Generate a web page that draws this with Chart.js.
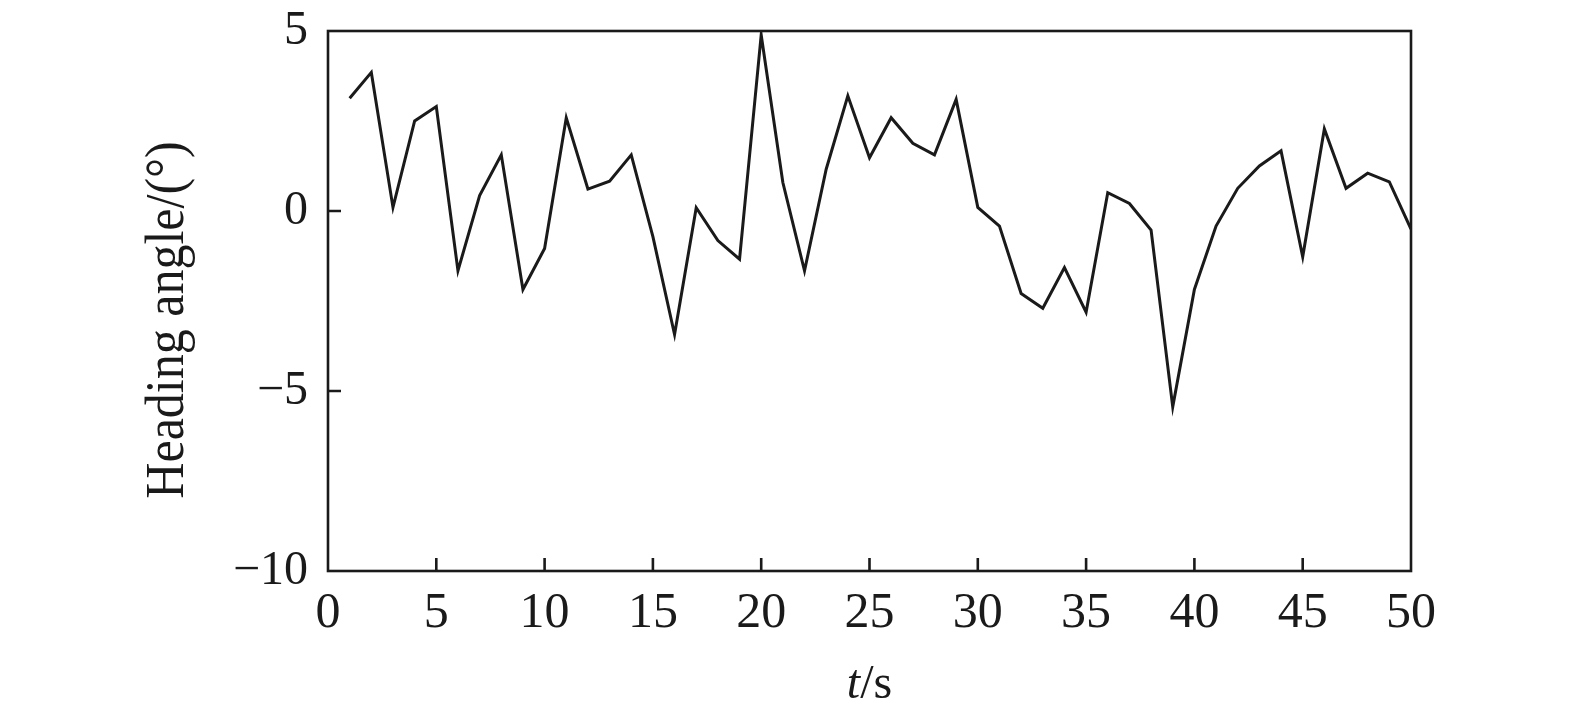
<!DOCTYPE html>
<html>
<head>
<meta charset="utf-8">
<script src="https://cdn.jsdelivr.net/npm/chart.js@4"></script>
<style>
  html, body { margin: 0; padding: 0; background: #fff; }
  #wrap { width: 1575px; height: 718px; }
</style>
</head>
<body>
<div id="wrap"><canvas id="myChart" width="1575" height="718"></canvas></div>
<script>
// time in seconds
const times = [1, 2, 3, 4, 5, 6, 7, 8, 9, 10,
  11, 12, 13, 14, 15, 16, 17, 18, 19, 20,
  21, 22, 23, 24, 25, 26, 27, 28, 29, 30,
  31, 32, 33, 34, 35, 36, 37, 38, 39, 40,
  41, 42, 43, 44, 45, 46, 47, 48, 49, 50];
// heading angle in degrees
const heading = [3.13, 3.85, 0.10, 2.50, 2.90, -1.66, 0.43, 1.56, -2.18, -1.04,
  2.59, 0.61, 0.83, 1.56, -0.71, -3.43, 0.09, -0.82, -1.34, 4.89,
  0.79, -1.66, 1.16, 3.20, 1.48, 2.59, 1.88, 1.56, 3.10, 0.10,
  -0.42, -2.29, -2.70, -1.57, -2.81, 0.51, 0.21, -0.53, -5.44, -2.18,
  -0.42, 0.63, 1.25, 1.67, -1.27, 2.28, 0.63, 1.05, 0.81, -0.50];
const xTicks = [0, 5, 10, 15, 20, 25, 30, 35, 40, 45, 50];
const yTicks = [-10, -5, 0, 5];
const yTitle = 'Heading angle/(\u00b0)';

const ink = '#1a1a1a';
const serif = '"Liberation Serif", "Times New Roman", serif';

// box around the plot, inward tick marks, and both axis titles
const frame = {
  id: 'frame',
  afterDraw(chart) {
    const { ctx, chartArea: a, scales } = chart;
    ctx.save();
    ctx.strokeStyle = ink;
    ctx.lineWidth = 2.6;
    ctx.strokeRect(a.left, a.top, a.right - a.left, a.bottom - a.top);
    ctx.beginPath();
    xTicks.slice(1, -1).forEach(v => {
      const px = scales.x.getPixelForValue(v);
      ctx.moveTo(px, a.bottom);
      ctx.lineTo(px, a.bottom - 13);
    });
    yTicks.slice(1, -1).forEach(v => {
      const py = scales.y.getPixelForValue(v);
      ctx.moveTo(a.left, py);
      ctx.lineTo(a.left + 13, py);
    });
    ctx.stroke();

    ctx.fillStyle = ink;
    ctx.textBaseline = 'alphabetic';

    // "t/s" with italic t
    const italic = 'italic 48px ' + serif;
    const upright = '48px ' + serif;
    ctx.font = italic;
    const w1 = ctx.measureText('t').width;
    ctx.font = upright;
    const w2 = ctx.measureText('/s').width;
    const cx = (a.left + a.right) / 2;
    const x0 = cx - (w1 + w2) / 2;
    ctx.font = italic;
    ctx.fillText('t', x0, 698);
    ctx.font = upright;
    ctx.fillText('/s', x0 + w1, 698);

    // rotated y title
    ctx.save();
    ctx.translate(183, 320);
    ctx.rotate(-Math.PI / 2);
    ctx.scale(1, 1.1);
    ctx.font = '50px ' + serif;
    ctx.textAlign = 'center';
    ctx.fillText(yTitle, 0, 0);
    ctx.restore();
    ctx.restore();
  }
};

const ctx = document.getElementById('myChart');
new Chart(ctx, {
  type: 'line',
  data: {
    datasets: [{
      label: yTitle,
      data: times.map((t, i) => ({ x: t, y: heading[i] })),
      borderColor: ink,
      borderWidth: 3,
      pointRadius: 0,
      tension: 0,
      fill: false
    }]
  },
  options: {
    responsive: false,
    animation: false,
    layout: { padding: { left: 0, top: 31, right: 164, bottom: 0 } },
    plugins: { legend: { display: false }, tooltip: { enabled: false } },
    scales: {
      x: {
        type: 'linear',
        min: 0,
        max: 50,
        afterFit(scale) {
          scale.height = 147;
          scale.paddingLeft = 0;
          scale.paddingRight = 0;
        },
        afterBuildTicks(scale) { scale.ticks = xTicks.map(v => ({ value: v })); },
        border: { display: false },
        grid: { display: false, drawTicks: false },
        ticks: {
          color: ink,
          padding: 13,
          maxRotation: 0,
          autoSkip: false,
          font: { family: serif, size: 50 }
        }
      },
      y: {
        min: -10,
        max: 5,
        afterFit(scale) {
          scale.width = 328;
          scale.paddingTop = 0;
          scale.paddingBottom = 0;
        },
        afterBuildTicks(scale) { scale.ticks = yTicks.map(v => ({ value: v })); },
        border: { display: false },
        grid: { display: false, drawTicks: false },
        ticks: {
          color: ink,
          padding: 20,
          font: { family: serif, size: 48 },
          callback: v => String(v).replace('-', '\u2212')
        }
      }
    }
  },
  plugins: [frame]
});
</script>
</body>
</html>
